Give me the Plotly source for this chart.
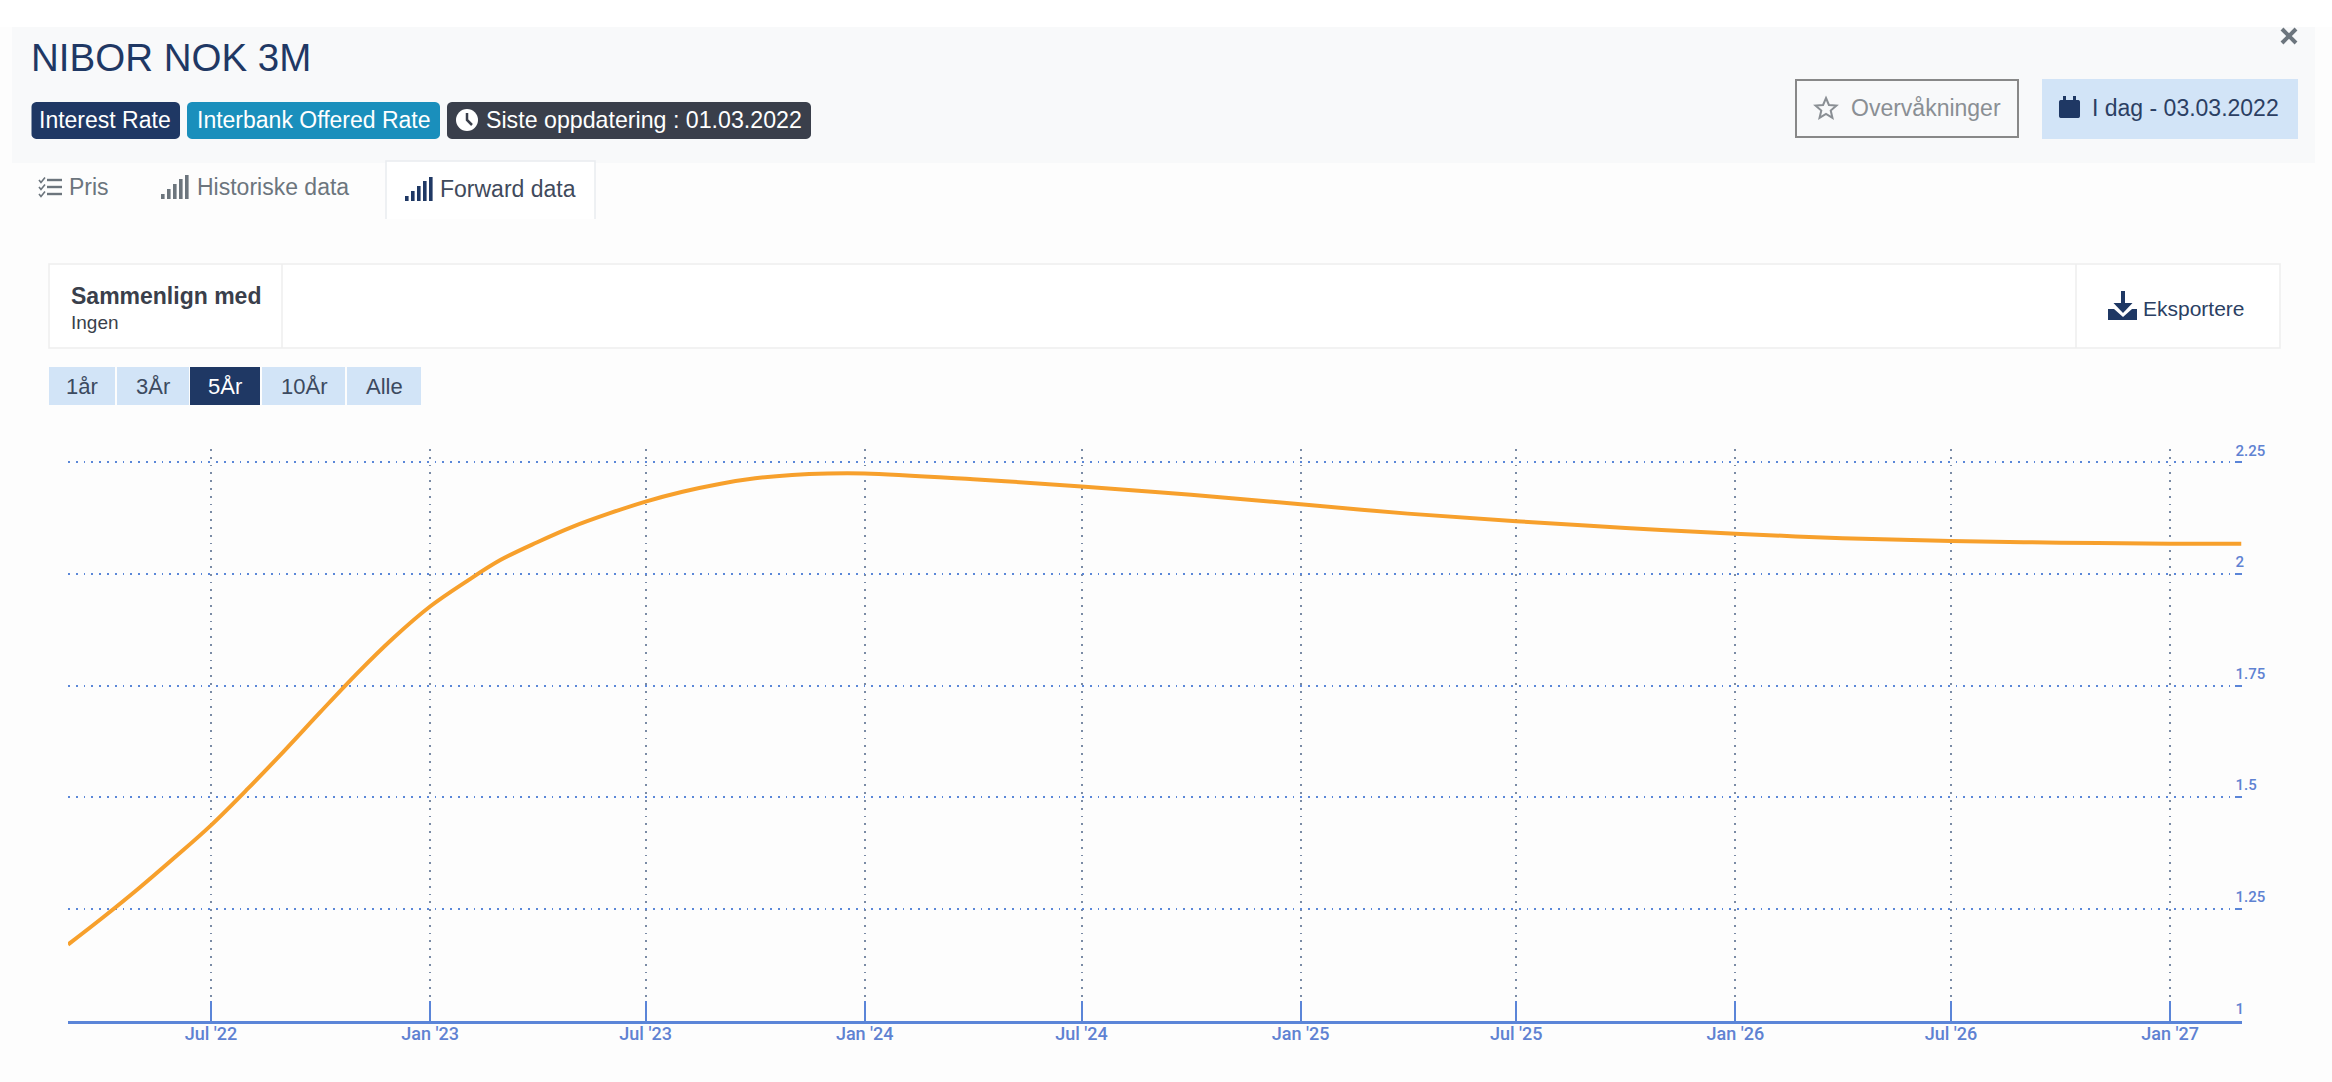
import math
import plotly.graph_objects as go

# ---------- data ----------
dates = ["2022-03-03", "2022-04-01", "2022-05-01", "2022-06-01", "2022-07-01", "2022-08-01",
         "2022-09-01", "2022-10-01", "2022-11-01", "2022-12-01", "2023-01-01", "2023-02-01",
         "2023-03-01", "2023-04-01", "2023-05-01", "2023-06-01", "2023-07-01", "2023-08-01",
         "2023-09-01", "2023-10-01", "2023-11-01", "2023-12-01", "2024-01-01", "2024-04-01",
         "2024-07-01", "2024-10-01", "2025-01-01", "2025-04-01", "2025-07-01", "2025-10-01",
         "2026-01-01", "2026-04-01", "2026-07-01", "2026-10-01", "2027-01-01", "2027-03-02"]
rates = [1.170, 1.230, 1.295, 1.366, 1.437, 1.519,
         1.605, 1.691, 1.778, 1.856, 1.927, 1.984,
         2.031, 2.071, 2.106, 2.136, 2.162, 2.184,
         2.2015, 2.214, 2.2216, 2.225, 2.225, 2.212,
         2.196, 2.177, 2.156, 2.135, 2.118, 2.103,
         2.090, 2.080, 2.0735, 2.070, 2.0675, 2.0675]
x_tick_dates = ["2022-07-01", "2023-01-01", "2023-07-01", "2024-01-01", "2024-07-01",
                "2025-01-01", "2025-07-01", "2026-01-01", "2026-07-01", "2027-01-01"]
x_tick_labels = ["Jul '22", "Jan '23", "Jul '23", "Jan '24", "Jul '24",
                 "Jan '25", "Jul '25", "Jan '26", "Jul '26", "Jan '27"]
y_tick_values = [1, 1.25, 1.5, 1.75, 2, 2.25]
y_tick_labels = ["1", "1.25", "1.5", "1.75", "2", "2.25"]
series_name = "NIBOR NOK 3M"
range_buttons = ["1år", "3År", "5År", "10År", "Alle"]

# ---------- page geometry helpers ----------
W, H = 2332, 1082
NAVY = "#1f3864"
TEAL = "#1a8fbc"
DARK = "#3a3f4b"
LIGHT = "#d2e4f7"
GRAY = "#6c757d"
AXIS = "#5b85d8"
FONT = "Liberation Sans"

def fx(v):
    return v / W

def fy(v):
    return 1 - v / H

shapes = []
annotations = []

def rect(x0, y0, x1, y1, fill=None, line=None, lw=0, layer="above"):
    shapes.append(dict(type="rect", xref="paper", yref="paper", x0=fx(x0), x1=fx(x1), y0=fy(y1), y1=fy(y0),
                       fillcolor=fill or "rgba(0,0,0,0)",
                       line=dict(color=line or "rgba(0,0,0,0)", width=lw), layer=layer))

def path(points, fill=None, line=None, lw=0, close=True):
    d = "M " + " L ".join(f"{fx(a):.5f},{fy(b):.5f}" for a, b in points) + (" Z" if close else "")
    shapes.append(dict(type="path", xref="paper", yref="paper", path=d,
                       fillcolor=fill or "rgba(0,0,0,0)",
                       line=dict(color=line or "rgba(0,0,0,0)", width=lw, ), layer="above"))

def rounded(x0, y0, x1, y1, r, fill):
    pts = []
    for cx, cy, a0 in ((x1 - r, y0 + r, -90), (x1 - r, y1 - r, 0), (x0 + r, y1 - r, 90), (x0 + r, y0 + r, 180)):
        for k in range(7):
            a = math.radians(a0 + k * 15)
            pts.append((cx + r * math.cos(a), cy + r * math.sin(a)))
    path(pts, fill=fill)

def circle(cx, cy, r, fill):
    shapes.append(dict(type="circle", xref="paper", yref="paper", x0=fx(cx - r), x1=fx(cx + r),
                       y0=fy(cy + r), y1=fy(cy - r), fillcolor=fill, line=dict(width=0), layer="above"))

def text(s, x, y, size, color, anchor="left", bold=False):
    annotations.append(dict(text=f"<b>{s}</b>" if bold else s, xref="paper", yref="paper", x=fx(x), y=fy(y),
                            xanchor=anchor, yanchor="middle", showarrow=False, align=anchor,
                            borderpad=0, borderwidth=0,
                            font=dict(family=FONT, size=size, color=color)))

def bars_icon(x0, y1, color):
    heights = [5, 10, 15, 20, 24]
    for i, h in enumerate(heights):
        rect(x0 + i * 6, y1 - h, x0 + i * 6 + 3.6, y1, fill=color)

def star(cx, cy, r, color):
    pts = []
    for k in range(10):
        a = math.radians(-90 + k * 36)
        rr = r if k % 2 == 0 else r * 0.45
        pts.append((cx + rr * math.cos(a), cy + rr * math.sin(a)))
    path(pts, line=color, lw=2)

# ---------- page chrome ----------
rect(0, 0, W, H, fill="#fdfdfd", layer="below")
rect(0, 0, W, 27, fill="#ffffff", layer="below")
rect(12, 27, 2315, 163, fill="#f8f9fa", layer="below")

# header
text(series_name, 31, 57, 38.5, NAVY)
rounded(31.5, 102, 180, 139, 5, NAVY)
text("Interest Rate", 39, 120, 23, "#ffffff")
rounded(187, 102, 440, 139, 5, TEAL)
text("Interbank Offered Rate", 197, 120, 23, "#ffffff")
rounded(447, 102, 811, 139, 5, DARK)
circle(467, 120, 11, "#ffffff")
path([(467, 113), (467, 120), (472, 125)], line=DARK, lw=2.5, close=False)
text("Siste oppdatering : 01.03.2022", 486, 120, 23.2, "#ffffff")

# close cross
path([(2282, 29), (2296, 43)], line=GRAY, lw=4, close=False)
path([(2296, 29), (2282, 43)], line=GRAY, lw=4, close=False)

# right header buttons
rect(1796, 80, 2018, 137, line="#888888", lw=2)
star(1826, 109, 11, "#8a8f94")
text("Overvåkninger", 1851, 108, 23, "#8a8f94")
rect(2042, 79, 2298, 139, fill=LIGHT)
rounded(2059, 100, 2080, 118, 2, NAVY)
rect(2063, 96, 2066, 102, fill=NAVY)
rect(2073, 96, 2076, 102, fill=NAVY)
text("I dag - 03.03.2022", 2092, 108, 23, "#2b3f63")

# tabs
for yy in (180, 187, 194):
    rect(47, yy - 1.2, 62, yy + 1.2, fill=GRAY)
for yy in (180, 187, 194):
    path([(39, yy), (41, yy + 2.5), (45, yy - 2.5)], line=GRAY, lw=1.6, close=False)
text("Pris", 69, 187, 23, GRAY)
bars_icon(161, 199, GRAY)
text("Historiske data", 197, 187, 23, GRAY)
rect(386, 161, 595, 219, fill="#ffffff", layer="below")
path([(386, 219), (386, 161), (595, 161), (595, 219)], line="#e9ecef", lw=1.5, close=False)
bars_icon(405, 201, NAVY)
text("Forward data", 440, 189, 23, "#3f4a5c")

# compare bar
rect(49, 264, 2280, 348, fill="#ffffff", line="#eeeeee", lw=1.5, layer="below")
path([(282, 264), (282, 348)], line="#eeeeee", lw=1.5, close=False)
path([(2076, 264), (2076, 348)], line="#eeeeee", lw=1.5, close=False)
text("Sammenlign med", 71, 296, 23, "#3a3f4b", bold=True)
text("Ingen", 71, 322, 19, "#3a3f4b")

# export
rect(2121, 291, 2125, 305, fill=NAVY)
path([(2113.5, 303), (2132.5, 303), (2123, 313)], fill=NAVY)
path([(2108, 309), (2114, 309), (2123, 317), (2132, 309), (2137, 309), (2137, 320), (2108, 320)], fill=NAVY)
text("Eksportere", 2143, 309, 21, "#2b3f63")

# range selector
button_boxes = [(49, 115), (117, 189), (190, 260), (262, 345), (347, 421)]
for label, (b0, b1) in zip(range_buttons, button_boxes):
    active = label == "5År"
    rect(b0, 367, b1, 405, fill=NAVY if active else LIGHT)
    text(label, (b0 + b1) / 2, 386, 22, "#ffffff" if active else "#3c4a60", anchor="center")

# ---------- chart ----------
fig = go.Figure()
fig.add_trace(go.Scatter(x=dates, y=rates, mode="lines", name=series_name,
                         line=dict(color="#f7a02c", width=4, shape="spline", smoothing=1.0),
                         hoverinfo="x+y"))

fig.update_layout(
    width=W, height=H,
    margin=dict(l=0, r=0, t=0, b=0, autoexpand=False),
    paper_bgcolor="#ffffff", plot_bgcolor="rgba(0,0,0,0)",
    showlegend=False,
    shapes=shapes, annotations=annotations,
    font=dict(family="Roboto"),
    xaxis=dict(
        type="date", domain=[fx(68), fx(2241.5)],
        range=["2022-03-03", "2027-03-02"],
        tickmode="array", tickvals=x_tick_dates, ticktext=x_tick_labels,
        ticks="inside", ticklen=20, tickwidth=2, tickcolor=AXIS,
        showline=True, linecolor=AXIS, linewidth=2.5,
        showgrid=True, gridcolor="#7a8ba5", griddash="1.8px,6px", gridwidth=1.8,
        zeroline=False, ticklabelstandoff=-5,
        tickfont=dict(family="Roboto", size=18, color="#5f82d2", weight=500),
    ),
    yaxis=dict(
        domain=[fy(1020.5), fy(449)],
        range=[1, 2.2797], side="right",
        tickmode="array", tickvals=y_tick_values, ticktext=y_tick_labels,
        ticks="inside", ticklen=7, tickwidth=2, tickcolor=AXIS,
        ticklabelshift=-12, ticklabelstandoff=-7,
        showline=False,
        showgrid=True, gridcolor="#5b87d8", griddash="1.8px,6px", gridwidth=1.8,
        zeroline=False,
        tickfont=dict(family="Roboto", size=15, color="#5f82d2", weight=500),
    ),
)

fig.write_html("out.html", config=dict(displayModeBar=False),
               post_script="document.body.style.margin='0';document.documentElement.style.overflow='hidden';")
